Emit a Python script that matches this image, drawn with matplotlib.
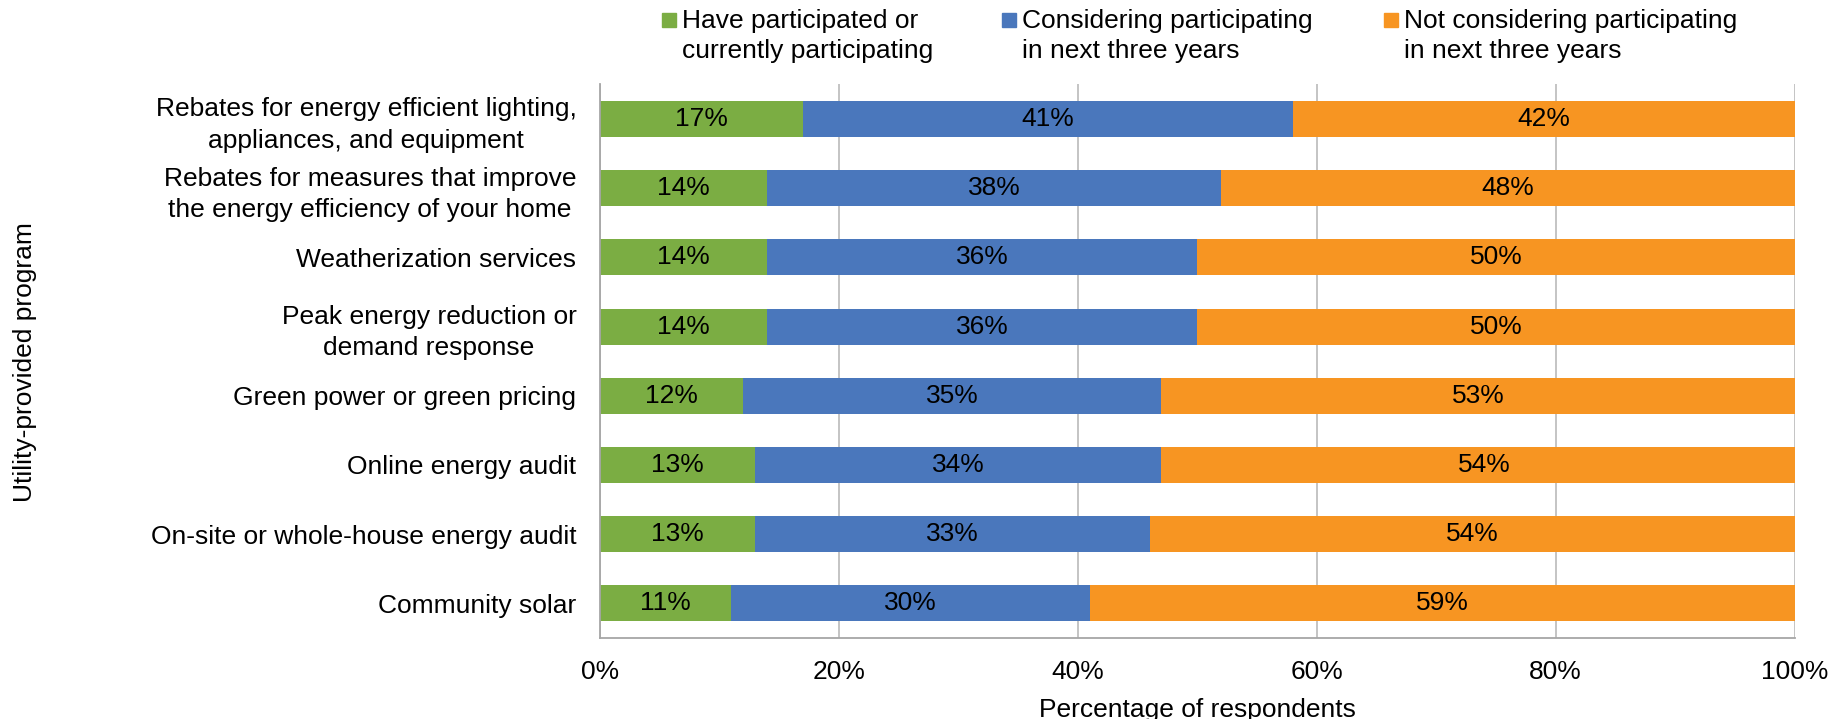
import matplotlib
matplotlib.use("Agg")
import matplotlib.pyplot as plt
from matplotlib.patches import Rectangle
import numpy as np

plt.rcParams["font.family"] = ["Liberation Sans", "DejaVu Sans"]

programs = [
    "Rebates for energy efficient lighting,\nappliances, and equipment",
    "Rebates for measures that improve\nthe energy efficiency of your home",
    "Weatherization services",
    "Peak energy reduction or\ndemand response",
    "Green power or green pricing",
    "Online energy audit",
    "On-site or whole-house energy audit",
    "Community solar",
]
participated = [17, 14, 14, 14, 12, 13, 13, 11]
considering = [41, 38, 36, 36, 35, 34, 33, 30]
not_considering = [42, 48, 50, 50, 53, 54, 54, 59]

series_names = [
    "Have participated or\ncurrently participating",
    "Considering participating\nin next three years",
    "Not considering participating\nin next three years",
]
colors = ["#7BAD43", "#4A77BC", "#F79522"]
x_ticks = [0, 20, 40, 60, 80, 100]

FS = 19
fig = plt.figure(figsize=(18.35, 7.19), dpi=100)
ax = fig.add_axes([0.327, 0.1127, 0.651, 0.770])

y = np.arange(len(programs))
left = np.zeros(len(programs))
for vals, col in zip([participated, considering, not_considering], colors):
    vals = np.array(vals, dtype=float)
    ax.barh(y, vals, left=left, height=0.52, color=col, zorder=2)
    for yi, l, v in zip(y, left, vals):
        ax.text(l + v / 2, yi, f"{v:.0f}%", ha="center", va="center",
                fontsize=FS, color="black", zorder=3)
    left += vals

ax.set_xlim(0, 100)
ax.set_ylim(len(programs) - 0.5, -0.5)
ax.set_xticks(x_ticks)
ax.set_xticklabels([f"{t}%" for t in x_ticks], fontsize=FS)
ax.set_yticks(y)
ax.set_yticklabels(programs, fontsize=FS)
for t in ax.get_yticklabels():
    t.set_multialignment("center")
    t.set_linespacing(1.38)
ax.tick_params(axis="both", length=0)
ax.tick_params(axis="y", pad=17)
ax.tick_params(axis="x", pad=16)
ax.grid(axis="x", color="#BFBFBF", lw=1.3, zorder=0)
ax.set_axisbelow(True)
for s in ["top", "right"]:
    ax.spines[s].set_visible(False)
for s in ["left", "bottom"]:
    ax.spines[s].set_color("#A6A6A6")
    ax.spines[s].set_linewidth(1.3)

ax.set_xlabel("Percentage of respondents", fontsize=FS, labelpad=10)
fig.text(0.0135, 0.497, "Utility-provided program", rotation=90,
         ha="center", va="center", fontsize=FS)

# legend across the top, square swatch beside the first line of each entry
W, H = 1835, 719
swatch_x = [662, 1002, 1384]
for sx, name, col in zip(swatch_x, series_names, colors):
    fig.patches.append(Rectangle((sx / W, 1 - 27 / H), 14 / W, 14 / H,
                                 transform=fig.transFigure, color=col))
    fig.text((sx + 20) / W, 1 - 36 / H, name, ha="left", va="center",
             fontsize=FS, linespacing=1.32)

fig.savefig("out.png", dpi=100)
